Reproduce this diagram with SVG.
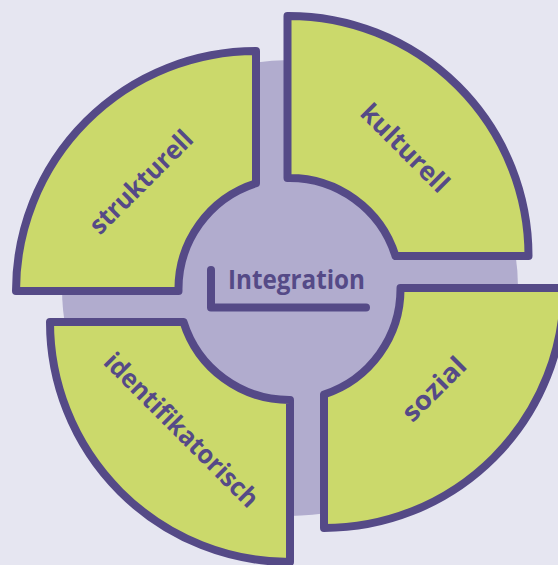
<svg xmlns="http://www.w3.org/2000/svg" width="558" height="565" viewBox="0 0 558 565">
<style>
.seg{fill:#cbd96b;stroke:#554a87;stroke-width:8;stroke-linejoin:round}
.lbl{font-family:"Open Sans","Noto Sans",sans-serif;font-weight:bold;font-size:26px;fill:#554a87;text-anchor:middle}
</style>
<rect width="558" height="565" fill="#e6e6f1"/>
<circle cx="290" cy="288" r="228" fill="#b1acce"/>
<g id="kulturell">
<path class="seg" d="M287.5,16 A240,240 0 0 1 528.5,256 L395.5,256 A111,111 0 0 0 287.5,178 Z"/>
<text class="lbl" transform="translate(405,148) rotate(45)" y="9" textLength="113" lengthAdjust="spacingAndGlyphs">kulturell</text>
</g>
<g id="strukturell">
<path class="seg" d="M16,291 A240,240 0 0 1 256,51 L256,183.2 A111,111 0 0 0 178.5,291 Z"/>
<text class="lbl" transform="translate(141,182) rotate(-45)" y="9" textLength="134" lengthAdjust="spacingAndGlyphs">strukturell</text>
</g>
<g id="identifikatorisch">
<path class="seg" d="M290,562 A240,240 0 0 1 50,322 L183.5,322 A111,111 0 0 0 290,400 Z"/>
<text class="lbl" transform="translate(181.5,430) rotate(45)" y="9" textLength="206" lengthAdjust="spacingAndGlyphs">identifikatorisch</text>
</g>
<g id="sozial">
<path class="seg" d="M564,288 A240,240 0 0 1 324,528 L324,394.5 A111,111 0 0 0 400.5,288 Z"/>
<text class="lbl" transform="translate(434,389) rotate(-45)" y="9" textLength="79" lengthAdjust="spacingAndGlyphs">sozial</text>
</g>
<g id="integration">
<text class="lbl" x="228" y="289" style="text-anchor:start;font-size:27px" textLength="137" lengthAdjust="spacingAndGlyphs">Integration</text>
</g>
<g id="connectors">
<path d="M211,270 L211,307.5 L366,307.5" fill="none" stroke="#554a87" stroke-width="8" stroke-linecap="round" stroke-linejoin="round"/>
</g>
</svg>
